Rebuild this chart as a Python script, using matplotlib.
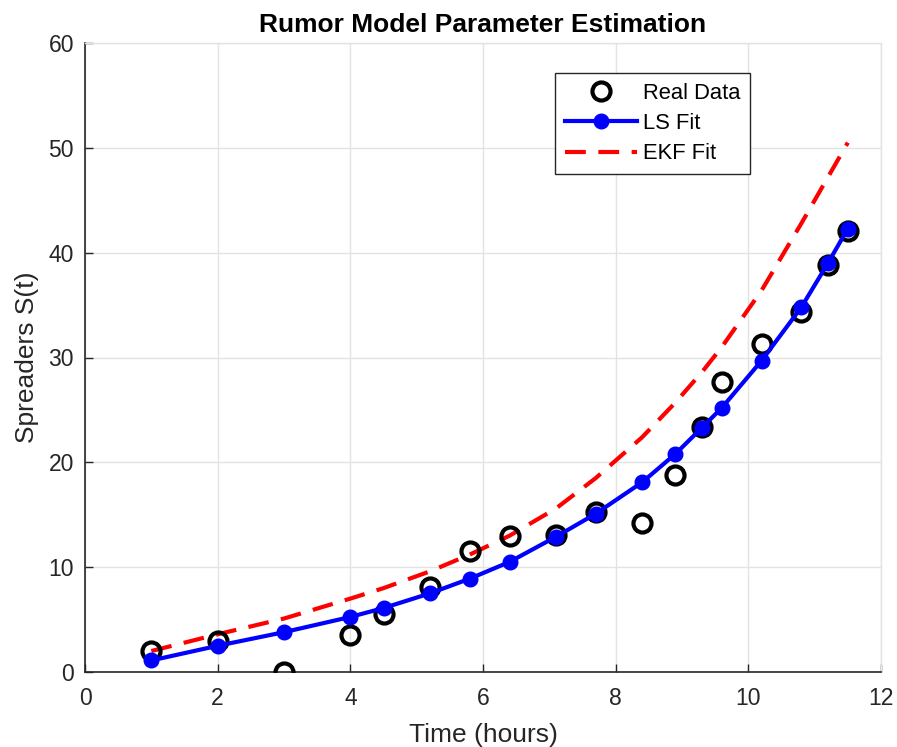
import matplotlib
matplotlib.use("Agg")
import matplotlib.pyplot as plt

t = [1, 2, 3, 4, 4.5, 5.2, 5.8, 6.4, 7.1, 7.7, 8.4, 8.9, 9.3, 9.6, 10.2, 10.8, 11.2, 11.5]
real_data = [2.0, 3.0, 0.0, 3.5, 5.5, 8.1, 11.5, 13.0, 13.1, 15.3, 14.2, 18.8, 23.4, 27.7, 31.3, 34.3, 38.8, 42.1]
ls_fit = [1.1, 2.5, 3.8, 5.25, 6.1, 7.5, 8.9, 10.5, 12.9, 15.1, 18.1, 20.8, 23.3, 25.2, 29.7, 34.8, 39.0, 42.3]
ekf_fit = [2.0, 3.6, 5.1, 7.0, 8.0, 9.6, 11.2, 13.0, 15.6, 18.5, 22.4, 25.7, 28.6, 31.0, 36.4, 42.8, 47.2, 50.5]

xticks = [0, 2, 4, 6, 8, 10, 12]
yticks = [0, 10, 20, 30, 40, 50, 60]

plt.rcParams['font.family'] = ['Liberation Sans', 'DejaVu Sans']
fig = plt.figure(figsize=(8.97, 7.47), dpi=100)
ax = fig.add_axes([85/897, 1 - 672/747, (881 - 85)/897, (672 - 43)/747])

ax.plot(t, real_data, 'o', color='black', markerfacecolor='none', markersize=13,
        markeredgewidth=3, label='Real Data', zorder=3)
ax.plot(t, ls_fit, '-o', color=(0, 0, 1), linewidth=3, markersize=10.5,
        markerfacecolor=(0, 0, 1), markeredgecolor=(0, 0, 1), label='LS Fit', zorder=4)
ax.plot(t, ekf_fit, '--', color=(1, 0, 0), linewidth=3, dashes=(5, 3), label='EKF Fit', zorder=2)

ax.set_xlim(0, 12)
ax.set_ylim(0, 60)
ax.set_xticks(xticks)
ax.set_yticks(yticks)
ax.grid(True, color='#e3e3e3', linewidth=1)
ax.set_axisbelow(True)
ax.tick_params(direction='in', length=6, width=1, colors='#262626', labelsize=16.5)
ax.tick_params(axis='y', pad=8)
ax.tick_params(axis='x', pad=11)
for s in ['left', 'bottom']:
    ax.spines[s].set_color('#262626')
    ax.spines[s].set_linewidth(1.2)
for s in ['top', 'right']:
    ax.spines[s].set_color('#e3e3e3')
    ax.spines[s].set_linewidth(1)

ax.set_xlabel('Time (hours)', fontsize=19, color='#262626', labelpad=9)
ax.set_ylabel('Spreaders S(t)', fontsize=19, color='#262626', labelpad=6.5)
ax.set_title('Rumor Model Parameter Estimation', fontsize=19, fontweight='bold', pad=8)

leg = ax.legend(loc='upper left', bbox_to_anchor=((555 - 85)/796, (672 - 73)/629),
                fontsize=15.8, frameon=True, fancybox=False, framealpha=1,
                edgecolor='#262626', borderpad=0.45, labelspacing=0.42,
                handlelength=3.3, handletextpad=0.25, borderaxespad=0)
leg.get_frame().set_linewidth(1)

fig.savefig('out.png', dpi=100)
